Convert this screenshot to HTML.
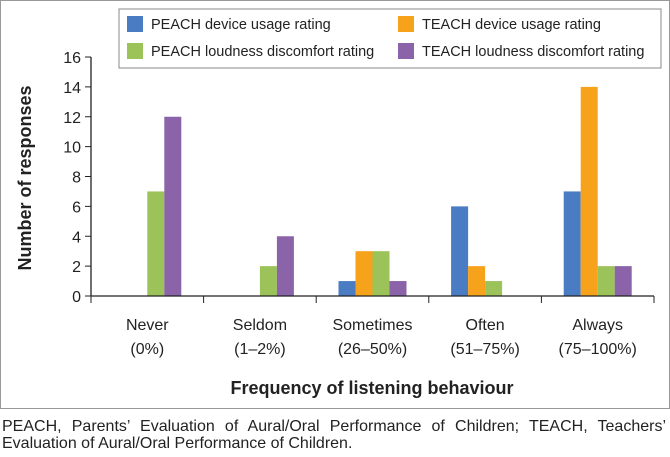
<!DOCTYPE html>
<html><head><meta charset="utf-8"><style>
body{margin:0;background:#fff;font-family:"Liberation Sans",sans-serif}
#wrap{position:relative;width:670px;height:457px;overflow:hidden}
.cap{position:absolute;left:2px;top:418px;width:664px;font-size:16px;line-height:17px;color:#222}
.l1{text-align:justify;text-align-last:justify}
</style></head><body><div id="wrap">
<svg id="chart" width="670" height="410" style="position:absolute;left:0;top:0"></svg>
<div class="cap"><div class="l1">PEACH, Parents’ Evaluation of Aural/Oral Performance of Children; TEACH, Teachers’</div><div>Evaluation of Aural/Oral Performance of Children.</div></div>
</div>
<script>
const categories=["Never","Seldom","Sometimes","Often","Always"];
const categorySub=["(0%)","(1–2%)","(26–50%)","(51–75%)","(75–100%)"];
const peachUsage=[0,0,1,6,7];
const teachUsage=[0,0,3,2,14];
const peachLoud=[7,2,3,1,2];
const teachLoud=[12,4,1,0,2];
const seriesNames=["PEACH device usage rating","TEACH device usage rating","PEACH loudness discomfort rating","TEACH loudness discomfort rating"];
const yTicks=[0,2,4,6,8,10,12,14,16];
const colors=["#4a7cc4","#f7a21b","#9bc35a","#8a63a8"];
const NS="http://www.w3.org/2000/svg";
const svg=document.getElementById('chart');
function mk(t,a,p){const e=document.createElementNS(NS,t);for(const k in a)e.setAttribute(k,a[k]);(p||svg).appendChild(e);return e;}
const x0=91,x1=654,yb=296,yt=57,ymax=16;
const bw=(x1-x0)/categories.length, barW=17;
const y=v=>yb-(v/ymax)*(yb-yt);
const xc=i=>x0+bw*(i+0.5);
let f=mk('rect',{x:0.5,y:0.5,width:669,height:408,fill:'none',stroke:'#999'});


const series=[peachUsage,teachUsage,peachLoud,teachLoud];
series.forEach((s,si)=>s.forEach((v,i)=>{if(v<=0)return;
 const r=mk('rect',{x:xc(i)-2*barW+si*barW,y:y(v),width:barW,height:yb-y(v),fill:colors[si]});
 
 }));
const ax=mk('path',{d:`M${x0} ${yt}V${yb}H${x1}`,stroke:'#222','stroke-width':1.3,fill:'none'});


yTicks.forEach(t=>{mk('line',{x1:x0-6,x2:x0,y1:y(t),y2:y(t),stroke:'#222'});
 const tx=mk('text',{x:x0-10,y:y(t)+6,'text-anchor':'end','font-size':16,fill:'#222'});tx.textContent=t;
 
 });
categories.forEach((c,i)=>{const xx=x0+bw*(i+1);mk('line',{x1:xx,x2:xx,y1:yb,y2:yb+7,stroke:'#222'});
 const t1=mk('text',{x:xc(i),y:330,'text-anchor':'middle','font-size':16,fill:'#222'});t1.textContent=c;
 
 
 const t2=mk('text',{x:xc(i),y:354,'text-anchor':'middle','font-size':16,fill:'#222'});t2.textContent=categorySub[i];
 
 });
mk('line',{x1:x0,x2:x0,y1:yb,y2:yb+7,stroke:'#222'});
const xt=mk('text',{x:372,y:394,'text-anchor':'middle','font-size':18,'font-weight':'bold',fill:'#222'});xt.textContent='Frequency of listening behaviour';


const yT=mk('text',{x:0,y:0,transform:'translate(31,178) rotate(-90)','text-anchor':'middle','font-size':18,'font-weight':'bold',fill:'#222'});yT.textContent='Number of responses';


const lg=mk('rect',{x:119,y:9,width:542,height:59,fill:'#fff',stroke:'#888'});


seriesNames.forEach((n,k)=>{const lx=k%2?398:127, ly=k<2?16:43;
 mk('rect',{x:lx,y:ly,width:16,height:16,fill:colors[k]});
 const t=mk('text',{x:lx+24,y:ly+13,'font-size':14.5,fill:'#222'});t.textContent=n;
 
 });
</script></body></html>
